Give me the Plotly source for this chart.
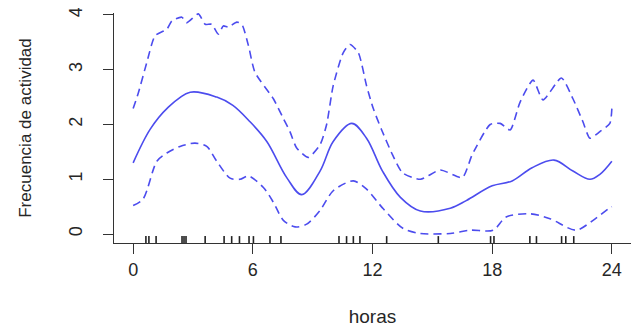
import plotly.graph_objects as go

# ---- data ----
hours_fit = [0, 0.85, 1.69, 2.86, 4.19, 5.0, 5.86, 6.7, 7.7, 8.45, 9.37, 10.03, 10.96,
             11.7, 12.5, 13.4, 14.4, 15.9, 16.7, 18, 19, 20, 21.1, 22.05, 22.9, 23.4, 24]
fit = [1.30, 1.91, 2.29, 2.59, 2.50, 2.35, 2.05, 1.69, 1.03, 0.72, 1.15, 1.69, 2.02,
       1.75, 1.15, 0.67, 0.42, 0.47, 0.61, 0.88, 0.97, 1.21, 1.35, 1.15, 1.0, 1.09, 1.33]

hours_upper = [0, 0.27, 0.69, 1.1, 1.69, 1.94, 2.44, 2.69, 3.27, 3.61, 3.94, 4.27, 4.52,
               4.77, 5.2, 5.45, 5.78, 6.11, 7.03, 7.53, 7.86, 8.2, 8.78, 9.37, 9.7, 10.03,
               10.53, 10.87, 11.29, 11.7, 12.04, 12.46, 13.0, 13.5, 14.4, 15.4, 16.5, 17.0,
               17.9, 18.4, 18.9, 19.4, 20.05, 20.55, 21.47, 22.05, 22.55, 22.9, 23.4, 23.9, 24]
upper = [2.29, 2.59, 3.14, 3.62, 3.74, 3.89, 3.96, 3.86, 4.02, 3.83, 3.83, 3.65, 3.80,
         3.78, 3.87, 3.83, 3.44, 2.95, 2.47, 2.11, 1.87, 1.57, 1.40, 1.63, 2.0, 2.71,
         3.31, 3.46, 3.31, 2.71, 2.29, 1.90, 1.45, 1.12, 1.0, 1.17, 1.03, 1.45,
         2.0, 2.02, 1.90, 2.41, 2.81, 2.45, 2.85, 2.47, 2.05, 1.75, 1.87, 2.02, 2.29]

hours_lower = [0, 0.5, 1.19, 1.69, 2.35, 3.1, 3.69, 4.19, 4.86, 5.36, 5.78, 6.53, 7.03,
               7.53, 8.12, 8.7, 9.37, 10.03, 11.04, 11.7, 12.54, 13.54, 14.4, 15.9, 16.9,
               18.05, 18.7, 19.9, 20.9, 22.2, 23.06, 23.9, 24]
lower = [0.52, 0.64, 1.33, 1.48, 1.60, 1.66, 1.60, 1.33, 1.02, 1.00, 1.06, 0.85, 0.58,
         0.25, 0.13, 0.18, 0.43, 0.79, 0.97, 0.82, 0.46, 0.10, 0.01, 0.01, 0.07,
         0.07, 0.31, 0.37, 0.28, 0.07, 0.25, 0.48, 0.50]

rug_hours = [0.64, 0.79, 1.15, 2.45, 2.55, 2.65, 3.61, 4.56, 4.94, 5.33, 5.81, 6.03,
             6.86, 7.41, 10.32, 10.7, 11.04, 11.37, 12.71, 15.3, 17.92, 18.09,
             19.89, 20.22, 21.48, 21.69, 22.09]

x_ticks = [0, 6, 12, 18, 24]
y_ticks = [0, 1, 2, 3, 4]

BLUE = "#4c4cee"
TXT = "#262626"
FONT = "Liberation Sans, Arial, sans-serif"

fig = go.Figure()
fig.add_trace(go.Scatter(x=hours_upper, y=upper, mode="lines",
                         line=dict(color=BLUE, width=1.6, dash="8px,5px", shape="spline", smoothing=0.6)))
fig.add_trace(go.Scatter(x=hours_lower, y=lower, mode="lines",
                         line=dict(color=BLUE, width=1.6, dash="8px,5px", shape="spline", smoothing=0.8)))
fig.add_trace(go.Scatter(x=hours_fit, y=fit, mode="lines",
                         line=dict(color=BLUE, width=1.6, shape="spline", smoothing=1.0)))

for h in rug_hours:
    fig.add_shape(type="line", xref="x", yref="paper", x0=h, x1=h, y0=0, y1=0.03,
                  line=dict(color="#222222", width=1.6))

# page body has an 8px margin; figure is sized to fit the 642x330 window
fig.update_layout(
    width=634, height=322,
    margin=dict(l=106, r=11, t=5, b=87),
    paper_bgcolor="white", plot_bgcolor="white",
    showlegend=False,
    font=dict(family=FONT, size=18, color=TXT),
)
fig.update_xaxes(
    automargin=False,
    range=[-0.96, 24.96], tickvals=x_ticks, ticktext=[str(v) for v in x_ticks],
    showgrid=False, zeroline=False, showline=True, linecolor="#333333", linewidth=1.3,
    ticks="outside", ticklen=10, tickwidth=1.3, tickcolor="#333333",
    tickfont=dict(size=18, color=TXT),
    title=dict(text="horas", font=dict(size=19, color=TXT), standoff=30),
)
fig.update_yaxes(
    automargin=False,
    range=[-0.164, 4.036], tickvals=y_ticks, ticktext=[str(v) for v in y_ticks],
    showgrid=False, zeroline=False, showline=True, linecolor="#333333", linewidth=1.3,
    ticks="outside", ticklen=10, tickwidth=1.3, tickcolor="#333333",
    tickangle=-90, tickfont=dict(size=18, color=TXT), ticklabelstandoff=14,
    ticklabeloverflow="allow",
    title=dict(text="Frecuencia de actividad", font=dict(size=17, color=TXT), standoff=29),
)

fig.write_html("out.html")
